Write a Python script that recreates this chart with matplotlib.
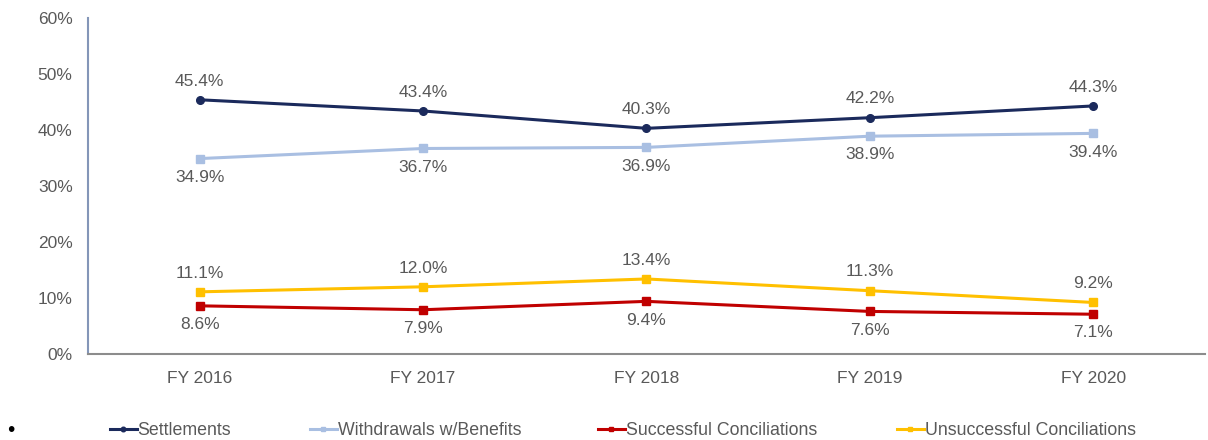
import numpy as np
import matplotlib.pyplot as plt

years = ["FY 2016", "FY 2017", "FY 2018", "FY 2019", "FY 2020"]
settlements = [45.4, 43.4, 40.3, 42.2, 44.3]
withdrawals = [34.9, 36.7, 36.9, 38.9, 39.4]
successful = [8.6, 7.9, 9.4, 7.6, 7.1]
unsuccessful = [11.1, 12.0, 13.4, 11.3, 9.2]

plt.rcParams['font.family'] = ['Liberation Sans', 'DejaVu Sans']
gray = '#595959'
fs = 12.5

fig = plt.figure(figsize=(12.08, 4.4), dpi=100)
ax = fig.add_axes([0.0728, 0.1955, 0.9247, 0.7635])

x = np.arange(len(years))
series = [
    ("Settlements", settlements, '#1b2a5c', 'o', 1),
    ("Withdrawals w/Benefits", withdrawals, '#a9bfe2', 's', -1),
    ("Successful Conciliations", successful, '#c00000', 's', -1),
    ("Unsuccessful Conciliations", unsuccessful, '#ffc000', 's', 1),
]
handles = []
for name, vals, col, mk, side in series:
    ln, = ax.plot(x, vals, color=col, lw=2.2, marker=mk, markersize=5.5, label=name)
    handles.append(ln)
    for xi, v in zip(x, vals):
        ax.annotate(f"{v:.1f}%", (xi, v), xytext=(0, 13.5 * side), textcoords='offset points',
                    ha='center', va='center', fontsize=fs, color=gray)

ax.set_xlim(-0.5, len(years) - 0.5)
ax.set_ylim(0, 60)
ax.set_yticks(np.arange(0, 61, 10))
ax.set_yticklabels([f"{t}%" for t in range(0, 61, 10)])
ax.set_xticks(x)
ax.set_xticklabels(years)
ax.tick_params(axis='both', length=0, labelsize=fs, labelcolor=gray)
ax.tick_params(axis='y', pad=11)
ax.tick_params(axis='x', pad=12)
for s in ['top', 'right']:
    ax.spines[s].set_visible(False)
ax.spines['left'].set_color('#8496b8')
ax.spines['left'].set_linewidth(1.5)
ax.spines['bottom'].set_color('#8c8c8c')
ax.spines['bottom'].set_linewidth(1.5)

# legend entries placed one by one, like the original
leg_x = [110, 310, 598, 897]
for h, lx in zip(handles, leg_x):
    leg = fig.legend([h], [h.get_label()], loc='center left',
                     bbox_to_anchor=(lx / 1208, 0.022), frameon=False,
                     fontsize=12.8, handlelength=1.5, handletextpad=0.05,
                     borderpad=0, borderaxespad=0, markerscale=0.6)
    for t in leg.get_texts():
        t.set_color(gray)

fig.text(0.006, 0.022, "\u2022", fontsize=15, color='black', va='center')

fig.savefig("out.png", dpi=100)
